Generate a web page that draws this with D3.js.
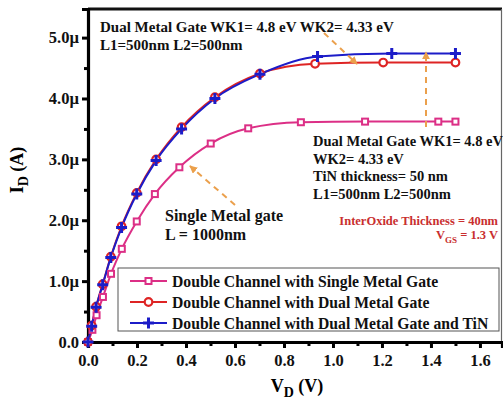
<!DOCTYPE html>
<html>
<head>
<meta charset="utf-8">
<script src="https://cdn.jsdelivr.net/npm/d3@7"></script>
<style>
  body { margin: 0; background: #fff; }
  text { font-family: "Liberation Serif", "Times New Roman", serif; font-weight: bold; }
</style>
</head>
<body>
<div id="chart"></div>
<script>
// data (V_D in volts, I_D in microamps)
var vdSingle = [0, 0.018, 0.035, 0.061, 0.094, 0.138, 0.199, 0.273, 0.373, 0.501, 0.654, 0.869, 1.131, 1.43, 1.5];
var idSingle = [0, 0.20, 0.44, 0.74, 1.12, 1.53, 1.98, 2.43, 2.87, 3.26, 3.51, 3.61, 3.62, 3.62, 3.62];

var vdDual = [0, 0.015, 0.033, 0.06, 0.093, 0.137, 0.199, 0.278, 0.382, 0.518, 0.702, 0.927, 1.205, 1.5];
var idDual = [0, 0.27, 0.58, 0.95, 1.40, 1.90, 2.45, 3.00, 3.53, 4.02, 4.41, 4.57, 4.59, 4.59];

var vdTiN = [0, 0.015, 0.033, 0.06, 0.093, 0.137, 0.199, 0.278, 0.382, 0.518, 0.702, 0.937, 1.24, 1.5];
var idTiN = [0, 0.26, 0.57, 0.94, 1.39, 1.88, 2.43, 2.98, 3.50, 4.00, 4.40, 4.69, 4.74, 4.74];

var xTicks = [0, 0.2, 0.4, 0.6, 0.8, 1.0, 1.2, 1.4, 1.6];
var xMinor = [0.1, 0.3, 0.5, 0.7, 0.9, 1.1, 1.3, 1.5];
var yTicks = [0, 1, 2, 3, 4, 5];
var yMinor = [0.5, 1.5, 2.5, 3.5, 4.5];
var yTickLabels = ["0.0", "1.0\u00b5", "2.0\u00b5", "3.0\u00b5", "4.0\u00b5", "5.0\u00b5"];

var legendNames = [
  "Double Channel with Single Metal Gate",
  "Double Channel with Dual Metal Gate",
  "Double Channel with Dual Metal Gate and TiN"
];
var colors = ["#dc2f86", "#de2424", "#1c1cc8"];
var orange = "#eba04c";

var svgWidth = 503;
var svgHeight = 408;

var margin = {
  top: 9,
  right: 1,
  bottom: 66,
  left: 88
};

var chartWidth = svgWidth - margin.left - margin.right;
var chartHeight = svgHeight - margin.top - margin.bottom;

var svg = d3.select("#chart")
  .append("svg")
  .attr("width", svgWidth)
  .attr("height", svgHeight);

var plot = svg.append("g")
  .attr("transform", `translate(${margin.left}, ${margin.top})`);

var x = d3.scaleLinear().domain([0, 1.69]).range([0, chartWidth]);
var y = d3.scaleLinear().domain([0, 5.47]).range([chartHeight, 0]);

// frame: top/right
plot.append("line")
  .attr("x1", 0).attr("x2", chartWidth).attr("y1", 0).attr("y2", 0)
  .attr("stroke", "#111").attr("stroke-width", 3);
plot.append("line")
  .attr("x1", chartWidth - 0.5).attr("x2", chartWidth - 0.5).attr("y1", 0).attr("y2", chartHeight)
  .attr("stroke", "#666").attr("stroke-width", 1.2);

// axes
plot.append("g")
  .attr("transform", `translate(0, ${chartHeight})`)
  .call(d3.axisBottom(x).tickValues(xTicks).tickSize(6).tickPadding(6).tickFormat(d3.format(".1f")));
plot.append("g")
  .attr("transform", `translate(0, ${chartHeight})`)
  .call(d3.axisBottom(x).tickValues(xMinor).tickSize(4).tickFormat(""))
  .call(g => g.select(".domain").remove());

plot.append("g")
  .call(d3.axisLeft(y).tickValues(yTicks).tickSize(6).tickPadding(3).tickFormat((d, i) => yTickLabels[i]));
plot.append("g")
  .call(d3.axisLeft(y).tickValues(yMinor).tickSize(4).tickFormat(""))
  .call(g => g.select(".domain").remove());

plot.selectAll(".domain").attr("stroke", "#000").attr("stroke-width", 3.2);
plot.selectAll(".tick line").attr("stroke", "#000").attr("stroke-width", 3);
plot.selectAll(".tick text")
  .attr("fill", "#111")
  .style("font-size", "16.5px")
  .style("font-family", "'Liberation Serif', serif")
  .style("font-weight", "bold");

// axis titles
svg.append("text")
  .attr("x", 297).attr("y", 392)
  .attr("text-anchor", "middle")
  .style("font-size", "18px")
  .html('V<tspan dy="5" font-size="14px">D</tspan><tspan dy="-5"> (V)</tspan>');

svg.append("text")
  .attr("transform", "translate(23, 170) rotate(-90)")
  .attr("text-anchor", "middle")
  .style("font-size", "18px")
  .html('I<tspan dy="5" font-size="14px">D</tspan><tspan dy="-5"> (A)</tspan>');

// series
var series = [
  { v: vdSingle, i: idSingle, color: colors[0], marker: "square" },
  { v: vdDual, i: idDual, color: colors[1], marker: "circle" },
  { v: vdTiN, i: idTiN, color: colors[2], marker: "plus" }
];

var line = d3.line()
  .x(d => x(d[0]))
  .y(d => y(d[1]))
  .curve(d3.curveMonotoneX);

function drawMarker(g, type, color) {
  if (type === "square") {
    g.append("rect").attr("x", -3).attr("y", -3).attr("width", 6).attr("height", 6)
      .attr("fill", "#fff").attr("stroke", color).attr("stroke-width", 2);
  } else if (type === "circle") {
    g.append("circle").attr("r", 3.8)
      .attr("fill", "#fff").attr("stroke", color).attr("stroke-width", 2.2);
  } else {
    g.append("path").attr("d", "M-5.5,0H5.5M0,-5.5V5.5")
      .attr("stroke", color).attr("stroke-width", 3);
  }
}

series.forEach(function(s) {
  var pts = s.v.map((v, k) => [v, s.i[k]]);
  plot.append("path")
    .datum(pts)
    .attr("d", line)
    .attr("fill", "none")
    .attr("stroke", s.color)
    .attr("stroke-width", 2);
});
series.forEach(function(s) {
  var pts = s.v.map((v, k) => [v, s.i[k]]);
  plot.selectAll(null)
    .data(pts)
    .enter()
    .append("g")
    .attr("transform", d => `translate(${x(d[0])}, ${y(d[1])})`)
    .each(function() { drawMarker(d3.select(this), s.marker, s.color); });
});

// annotations
svg.append("defs").append("marker")
  .attr("id", "head")
  .attr("viewBox", "0 0 10 10")
  .attr("refX", 9).attr("refY", 5)
  .attr("markerWidth", 4).attr("markerHeight", 4)
  .attr("orient", "auto")
  .append("path").attr("d", "M0,0L10,5L0,10z").attr("fill", orange);

var arrows = [
  [324, 33, 357, 64],
  [426, 127, 426, 52],
  [235, 205, 190, 166]
];
svg.selectAll(".arrow")
  .data(arrows)
  .enter()
  .append("line")
  .attr("x1", d => d[0]).attr("y1", d => d[1])
  .attr("x2", d => d[2]).attr("y2", d => d[3])
  .attr("stroke", orange)
  .attr("stroke-width", 2)
  .attr("stroke-dasharray", "6,5")
  .attr("marker-end", "url(#head)");

var topNote = ["Dual Metal Gate WK1= 4.8 eV WK2= 4.33 eV", "L1=500nm L2=500nm"];
svg.selectAll(".topnote")
  .data(topNote)
  .enter()
  .append("text")
  .attr("x", 100)
  .attr("y", (d, k) => 32 + k * 18)
  .style("font-size", "15px")
  .attr("fill", "#111")
  .text(d => d);

var rightNote = ["Dual Metal Gate WK1= 4.8 eV", "WK2= 4.33 eV", "TiN thickness= 50 nm", "L1=500nm L2=500nm"];
svg.selectAll(".rightnote")
  .data(rightNote)
  .enter()
  .append("text")
  .attr("x", 313)
  .attr("y", (d, k) => 146 + k * 17.5)
  .style("font-size", "14.5px")
  .attr("fill", "#111")
  .text(d => d);

var singleNote = ["Single Metal gate", "L = 1000nm"];
svg.selectAll(".singlenote")
  .data(singleNote)
  .enter()
  .append("text")
  .attr("x", 165)
  .attr("y", (d, k) => 221 + k * 19)
  .style("font-size", "16px")
  .attr("fill", "#111")
  .text(d => d);

svg.append("text")
  .attr("x", 498).attr("y", 225)
  .attr("text-anchor", "end")
  .attr("fill", "#c92f2f")
  .style("font-size", "12.5px")
  .text("InterOxide Thickness = 40nm");
svg.append("text")
  .attr("x", 498).attr("y", 239)
  .attr("text-anchor", "end")
  .attr("fill", "#c92f2f")
  .style("font-size", "12.5px")
  .html('V<tspan dy="4" font-size="9px">GS</tspan><tspan dy="-4"> = 1.3 V</tspan>');

// legend
var legend = svg.append("g");
legend.append("rect")
  .attr("x", 118).attr("y", 268)
  .attr("width", 381).attr("height", 63)
  .attr("fill", "#fff")
  .attr("stroke", "#555")
  .attr("stroke-width", 1);

legendNames.forEach(function(name, k) {
  var ly = 281 + k * 21;
  legend.append("line")
    .attr("x1", 130).attr("x2", 167).attr("y1", ly).attr("y2", ly)
    .attr("stroke", colors[k]).attr("stroke-width", 2);
  var mg = legend.append("g").attr("transform", `translate(148.5, ${ly})`);
  drawMarker(mg, series[k].marker, colors[k]);
  legend.append("text")
    .attr("x", 172).attr("y", ly + 5.5)
    .style("font-size", "15.7px")
    .attr("fill", "#111")
    .text(name);
});
</script>
</body>
</html>
